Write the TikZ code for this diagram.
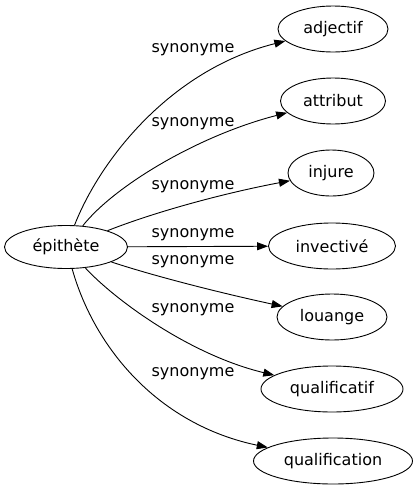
\documentclass[tikz,border=0pt]{standalone}
\usepackage{fontspec}
\setmainfont{DejaVu Sans}
\usetikzlibrary{shapes.geometric,arrows.meta}
\begin{document}
\begin{tikzpicture}[x=1pt,y=-1pt,
  every node/.style={font=\fontsize{16}{19}\selectfont},
  term/.style={ellipse,draw,line width=0.9pt,inner sep=0pt,minimum height=46pt},
  rel/.style={line width=0.9pt,-{Triangle[length=11pt,width=8pt]}},
  lab/.style={inner sep=0pt}]
\useasboundingbox (0,0) rectangle (418,491);
\node[term,minimum width=123pt,minimum height=43pt] (epi) at (66,247) {épithète};
\node[term,minimum width=110pt] (adj) at (333,29) {adjectif};
\node[term,minimum width=105pt] (att) at (333,101) {attribut};
\node[term,minimum width=86pt] (inj) at (331,173) {injure};
\node[term,minimum width=127pt] (inv) at (332,246) {invectivé};
\node[term,minimum width=110pt] (lou) at (332,317) {louange};
\node[term,minimum width=142pt] (qf) at (332,389) {qualificatif};
\node[term,minimum width=159pt] (qn) at (333,461) {qualification};
\draw[rel] (epi) .. controls (100,160) and (170,70) .. (adj);
\draw[rel] (epi) .. controls (115,185) and (200,135) .. (att);
\draw[rel] (epi) .. controls (160,210) and (230,192) .. (inj);
\draw[rel] (epi) -- (inv);
\draw[rel] (epi) .. controls (160,278) and (230,295) .. (lou);
\draw[rel] (epi) .. controls (115,300) and (190,355) .. (qf);
\draw[rel] (epi) .. controls (95,350) and (160,425) .. (qn);
\node[lab] (l1) at (193,50) {synonyme};
\node[lab] (l2) at (193,124) {synonyme};
\node[lab] (l3) at (193,187) {synonyme};
\node[lab] (l4) at (193,235) {synonyme};
\node[lab] (l5) at (193,262) {synonyme};
\node[lab] (l6) at (193,310) {synonyme};
\node[lab] (l7) at (193,374) {synonyme};
\end{tikzpicture}
\end{document}
